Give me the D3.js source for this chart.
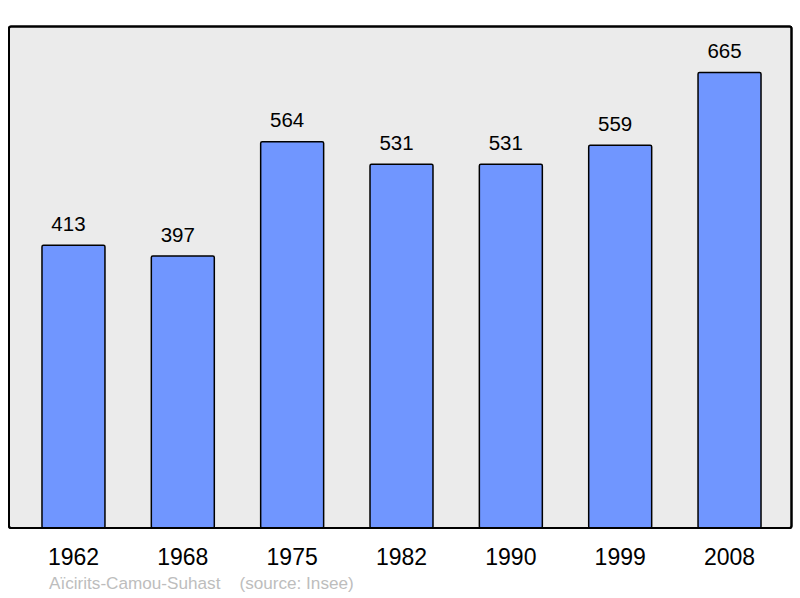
<!DOCTYPE html>
<html><head><meta charset="utf-8">
<script src="https://cdn.jsdelivr.net/npm/d3@7"></script>
<style>body{margin:0;background:#fff}svg{display:block}</style>
</head><body>
<script>
const years = ["1962","1968","1975","1982","1990","1999","2008"];
const population = [413,397,564,531,531,559,665];
const caption = "Aïcirits-Camou-Suhast    (source: Insee)";

const W=800,H=598;
const svg=d3.select("body").append("svg").attr("width",W).attr("height",H);
const frame={x:9,y:26.5,w:782.5,h:501.5};
svg.append("rect").attr("x",frame.x).attr("y",frame.y).attr("width",frame.w).attr("height",frame.h)
  .attr("rx",2).attr("fill","#ebebeb").attr("stroke","#000").attr("stroke-width",2);

const x=d3.scaleBand().domain(years).range([18.8,784.2]).paddingInner(0.424).paddingOuter(0.212);
const y=d3.scaleLinear().domain([0,733]).range([528,26]);

svg.selectAll("rect.bar").data(population).enter().append("rect").attr("class","bar")
  .attr("x",(d,i)=>x(years[i])).attr("y",d=>y(d)).attr("width",x.bandwidth()).attr("height",d=>y(0)-y(d))
  .attr("rx",1.5).attr("fill","#7096ff").attr("stroke","#000").attr("stroke-width",1.5);

svg.selectAll("text.val").data(population).enter().append("text").attr("class","val")
  .attr("x",(d,i)=>x(years[i])+x.bandwidth()/2-5).attr("y",d=>y(d)-14.5)
  .attr("text-anchor","middle").attr("font-family","Liberation Sans, Arial, sans-serif")
  .attr("font-size",20.5).attr("fill","#000").text(d=>d);

svg.append("rect").attr("x",frame.x).attr("y",frame.y).attr("width",frame.w).attr("height",frame.h)
  .attr("rx",2).attr("fill","none").attr("stroke","#000").attr("stroke-width",2);

const xa=svg.append("g").attr("transform","translate(0,528)").call(d3.axisBottom(x).tickSize(0).tickPadding(0));
xa.select(".domain").remove();
xa.selectAll("text").attr("y",37).attr("dy",null).attr("font-family","Liberation Sans, Arial, sans-serif")
  .attr("font-size",23).attr("fill","#000");

svg.append("text").attr("transform","translate(49,589) scale(1.1,1)").attr("font-family","Liberation Sans, Arial, sans-serif")
  .attr("font-size",15.6).attr("fill","#bdbdbd").style("white-space","pre").text(caption);
</script>
</body></html>
